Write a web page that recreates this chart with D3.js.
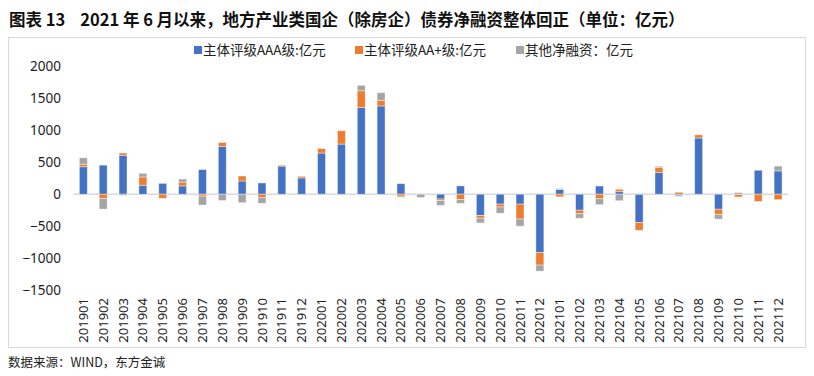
<!DOCTYPE html>
<html>
<head>
<meta charset="utf-8">
<script src="https://cdn.jsdelivr.net/npm/d3@7"></script>
<style>
  body { margin: 0; background: #fff; }
  text { font-family: "Noto Sans", "Noto Sans CJK SC", sans-serif; }
</style>
</head>
<body>
<div id="chart"></div>
<script>
// Months and series values (亿元)
const months = ["201901","201902","201903","201904","201905","201906","201907","201908","201909","201910","201911","201912",
    "202001","202002","202003","202004","202005","202006","202007","202008","202009","202010","202011","202012",
    "202101","202102","202103","202104","202105","202106","202107","202108","202109","202110","202111","202112"];
const aaa = [430, 455, 610, 140, 170, 130, 385, 750, 207, 176, 440, 255,
    645, 785, 1360, 1382, 165, 0, -75, 130, -335, -155, -155, -915,
    75, -250, 128, 40, -445, 338, -25, 880, -235, -5, 375, 365];
const aaPlus = [40, -65, 35, 130, -65, 60, -30, 60, 78, -50, 15, 25,
    70, 210, 260, 90, -32, 0, -25, -85, -40, -45, -235, -195,
    -40, -55, -72, 37, -120, 78, 30, 50, -80, -38, -112, -85];
const other = [100, -168, -20, 57, 0, 48, -140, -98, -132, -92, 0, 0,
    -12, 0, 85, 118, -18, -52, -75, -58, -75, -98, -110, -95,
    16, -72, -92, -102, 12, 22, -10, 0, -75, 25, -10, 75];
const yTicks = [2000, 1500, 1000, 500, 0, -500, -1000, -1500];

const keys = ["aaa", "aaPlus", "other"];
const labels = ["主体评级AAA级:亿元", "主体评级AA+级:亿元", "其他净融资：亿元"];
const colors = ["#4472C4", "#ED7D31", "#A5A5A5"];

const width = 814, height = 376;

const data = months.map((m, i) => ({ month: m, aaa: aaa[i], aaPlus: aaPlus[i], other: other[i] }));

const svg = d3.select("#chart").append("svg")
    .attr("width", width)
    .attr("height", height);

// Title
svg.append("text")
    .attr("x", 9)
    .attr("y", 26)
    .style("font-family", "'Noto Sans CJK SC', sans-serif")
    .style("font-size", "16.5px")
    .style("font-weight", "bold")
    .attr("fill", "#111")
    .text("图表 13\u00a0\u00a0\u00a0\u00a02021 年 6 月以来，地方产业类国企（除房企）债券净融资整体回正（单位：亿元）");

// Chart frame
svg.append("rect")
    .attr("x", 8.5)
    .attr("y", 37.5)
    .attr("width", 797)
    .attr("height", 310)
    .attr("fill", "none")
    .attr("stroke", "#d9d9d9")
    .attr("stroke-width", 1);

// Scales
const x = d3.scaleBand()
    .domain(months)
    .range([73.4, 788])
    .paddingInner(0.6)
    .paddingOuter(0.3);

const y = d3.scaleLinear()
    .domain([-1500, 2000])
    .range([290, 66.5]);

// Y axis labels
const yAxis = svg.append("g")
    .attr("transform", "translate(61,0)")
    .call(d3.axisLeft(y).tickValues(yTicks).tickFormat(d3.format("d")).tickSize(0).tickPadding(0));
yAxis.select(".domain").remove();
yAxis.selectAll("text")
    .style("font-size", "13.5px")
    .attr("fill", "#222");

// Zero line
svg.append("line")
    .attr("x1", 73.4)
    .attr("x2", 788)
    .attr("y1", y(0))
    .attr("y2", y(0))
    .attr("stroke", "#d9d9d9")
    .attr("stroke-width", 1.5);

// Stacked bars (diverging)
const stacked = d3.stack()
    .keys(keys)
    .offset(d3.stackOffsetDiverging)(data);

svg.append("g").selectAll("g.layer")
    .data(stacked)
    .join("g")
    .attr("class", "layer")
    .attr("fill", (d, i) => colors[i])
    .selectAll("rect")
    .data(d => d)
    .join("rect")
    .attr("x", d => x(d.data.month))
    .attr("y", d => y(Math.max(d[0], d[1])))
    .attr("height", d => Math.abs(y(d[0]) - y(d[1])))
    .attr("width", x.bandwidth())
    .attr("stroke", "#ffffff")
    .attr("stroke-opacity", 0.5)
    .attr("stroke-width", 0.8);

// X axis labels (rotated)
const xAxis = svg.append("g")
    .attr("transform", "translate(0,298)")
    .call(d3.axisBottom(x).tickSize(0).tickPadding(0));
xAxis.select(".domain").remove();
xAxis.selectAll("text")
    .style("font-size", "13px")
    .attr("fill", "#222")
    .attr("text-anchor", "end")
    .attr("transform", "rotate(-90)")
    .attr("x", 0)
    .attr("y", 0)
    .attr("dx", 0)
    .attr("dy", "0.35em");

// Legend
const legendX = [194, 355, 516];
const legend = svg.append("g");
keys.forEach((k, i) => {
    legend.append("rect")
        .attr("x", legendX[i])
        .attr("y", 46)
        .attr("width", 8)
        .attr("height", 8)
        .attr("fill", colors[i]);
    legend.append("text")
        .attr("x", legendX[i] + 9)
        .attr("y", 55)
        .style("font-family", "'Noto Sans CJK SC', sans-serif")
        .style("font-size", "13.5px")
        .attr("fill", "#222")
        .text(labels[i]);
});

// Source note
svg.append("text")
    .attr("x", 8)
    .attr("y", 367)
    .style("font-family", "'Noto Sans CJK SC', sans-serif")
    .style("font-size", "12.5px")
    .attr("fill", "#222")
    .text("数据来源：WIND，东方金诚");
</script>
</body>
</html>
